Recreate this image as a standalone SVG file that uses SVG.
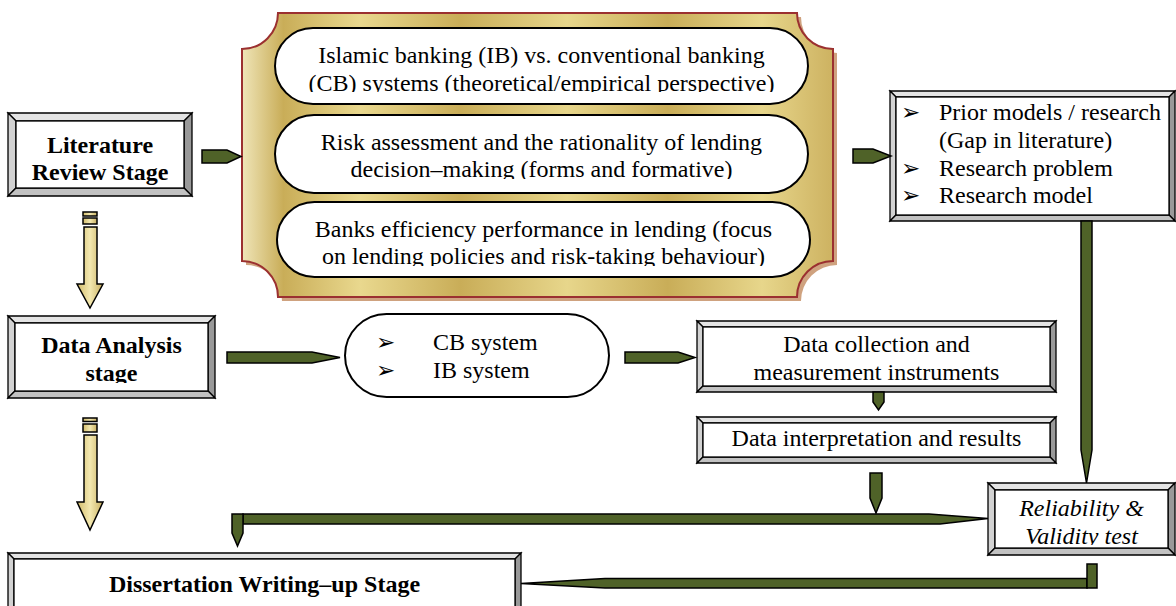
<svg xmlns="http://www.w3.org/2000/svg" width="1176" height="606" viewBox="0 0 1176 606">
  <style>
    text { font-family: "Liberation Serif", "Times New Roman", serif; font-size: 24px; fill: #000; }
    .b { font-weight: bold; }
    .it { font-style: italic; }
    .c { text-anchor: middle; }
    .bul { font-family: "DejaVu Sans", sans-serif; font-size: 23px; }
    .ln { stroke: #000; stroke-width: 1.3; stroke-linejoin: miter; }
    .bt { fill: #e4e4e4; }
    .bl { fill: #d2d2d2; }
    .br { fill: #999999; }
    .bb { fill: #c2c2c2; }
    .inner { fill: #fff; stroke: #000; stroke-width: 1.3; }
    .pill { fill: #fff; stroke: #000; stroke-width: 2; }
    .grn { fill: #4f6228; stroke: #000; stroke-width: 1.5; stroke-linejoin: miter; }
    .yel { fill: url(#yelGrad); stroke: #000; stroke-width: 1.5; }
  </style>
  <defs>
    <linearGradient id="goldGrad" x1="0" y1="0" x2="1" y2="0">
      <stop offset="0" stop-color="#efe5b8"/>
      <stop offset="0.07" stop-color="#c9ad58"/>
      <stop offset="0.2" stop-color="#e9d88e"/>
      <stop offset="0.37" stop-color="#c9ad58"/>
      <stop offset="0.55" stop-color="#e7d68b"/>
      <stop offset="0.72" stop-color="#c9ad58"/>
      <stop offset="0.88" stop-color="#e7d68b"/>
      <stop offset="1" stop-color="#cdb261"/>
    </linearGradient>
    <linearGradient id="yelGrad" x1="0" y1="0" x2="1" y2="0">
      <stop offset="0" stop-color="#d2bb6a"/>
      <stop offset="0.5" stop-color="#f3e8b0"/>
      <stop offset="1" stop-color="#c9b062"/>
    </linearGradient>
    <clipPath id="clipP1"><rect x="276" y="28" width="532" height="64"/></clipPath>
    <clipPath id="clipP2"><rect x="276" y="115" width="532" height="64"/></clipPath>
    <clipPath id="clipP3"><rect x="278" y="202" width="532" height="64"/></clipPath>
    <clipPath id="clipDA"><rect x="15" y="323" width="193" height="60"/></clipPath>
    <clipPath id="clipRV"><rect x="995" y="490" width="173" height="55"/></clipPath>
  </defs>

  <!-- stage 1: literature review -->
  <g id="literature-review">
    <polygon class="ln bt" points="8,113 192,113 184,121 16,121"/>
    <polygon class="ln bl" points="8,113 16,121 16,188 8,196"/>
    <polygon class="ln br" points="192,113 192,196 184,188 184,121"/>
    <polygon class="ln bb" points="8,196 16,188 184,188 192,196"/>
    <rect class="inner" x="16" y="121" width="168" height="67"/>
    <text class="b c" x="100" y="153">Literature</text>
    <text class="b c" x="100" y="180">Review Stage</text>
  </g>

  <!-- literature topics plaque -->
  <g id="topics">
    <path d="M 282,17 H 801 A 36 36 0 0 0 837,53 V 265 A 36 36 0 0 0 801,301 H 282 A 36 36 0 0 0 246,265 V 53 A 36 36 0 0 0 282,17 Z" fill="#cfa27f"/>
    <path d="M 278,13 H 797 A 36 36 0 0 0 833,49 V 261 A 36 36 0 0 0 797,297 H 278 A 36 36 0 0 0 242,261 V 49 A 36 36 0 0 0 278,13 Z" fill="url(#goldGrad)" stroke="#9b3030" stroke-width="2"/>
    <g id="topic-1">
      <rect class="pill" x="275" y="28" width="533" height="76" rx="38"/>
      <text class="c" x="541.5" y="63">Islamic banking (IB) vs. conventional banking</text>
      <text class="c" x="541.5" y="91" clip-path="url(#clipP1)">(CB) systems (theoretical/empirical perspective)</text>
    </g>
    <g id="topic-2">
      <rect class="pill" x="275" y="115" width="533" height="78" rx="39"/>
      <text class="c" x="541.5" y="150">Risk assessment and the rationality of lending</text>
      <text class="c" x="541.5" y="177" clip-path="url(#clipP2)">decision–making (forms and formative)</text>
    </g>
    <g id="topic-3">
      <rect class="pill" x="277" y="202" width="533" height="75" rx="37.5"/>
      <text class="c" x="543.5" y="237">Banks efficiency performance in lending (focus</text>
      <text class="c" x="543.5" y="264" clip-path="url(#clipP3)">on lending policies and risk-taking behaviour)</text>
    </g>
  </g>

  <!-- research outcome list -->
  <g id="research-model">
    <polygon class="ln bt" points="890,91 1175,91 1169,97 896,97"/>
    <polygon class="ln bl" points="890,91 896,97 896,215 890,221"/>
    <polygon class="ln br" points="1175,91 1175,221 1169,215 1169,97"/>
    <polygon class="ln bb" points="890,221 896,215 1169,215 1175,221"/>
    <rect class="inner" x="896" y="97" width="273" height="118"/>
    <text class="bul" x="901" y="120">➢</text>
    <text x="939" y="120">Prior models / research</text>
    <text x="939" y="148">(Gap in literature)</text>
    <text class="bul" x="901" y="176">➢</text>
    <text x="939" y="176">Research problem</text>
    <text class="bul" x="901" y="203">➢</text>
    <text x="939" y="203">Research model</text>
  </g>

  <!-- stage 2: data analysis -->
  <g id="data-analysis">
    <polygon class="ln bt" points="8,316 215,316 208,323 15,323"/>
    <polygon class="ln bl" points="8,316 15,323 15,391 8,398"/>
    <polygon class="ln br" points="215,316 215,398 208,391 208,323"/>
    <polygon class="ln bb" points="8,398 15,391 208,391 215,398"/>
    <rect class="inner" x="15" y="323" width="193" height="68"/>
    <text class="b c" x="111.5" y="353">Data Analysis</text>
    <text class="b c" x="111.5" y="381" clip-path="url(#clipDA)">stage</text>
  </g>

  <g id="systems">
    <rect class="pill" x="345" y="314" width="264" height="83" rx="41.5"/>
    <text class="bul" x="376" y="350">➢</text>
    <text x="433" y="350">CB system</text>
    <text class="bul" x="376" y="378">➢</text>
    <text x="433" y="378">IB system</text>
  </g>

  <g id="data-collection">
    <polygon class="ln bt" points="697,321 1056,321 1050,327 703,327"/>
    <polygon class="ln bl" points="697,321 703,327 703,386 697,392"/>
    <polygon class="ln br" points="1056,321 1056,392 1050,386 1050,327"/>
    <polygon class="ln bb" points="697,392 703,386 1050,386 1056,392"/>
    <rect class="inner" x="703" y="327" width="347" height="59"/>
    <text class="c" x="876.5" y="352">Data collection and</text>
    <text class="c" x="876.5" y="380">measurement instruments</text>
  </g>

  <g id="data-interpretation">
    <polygon class="ln bt" points="697,417 1056,417 1050,423 703,423"/>
    <polygon class="ln bl" points="697,417 703,423 703,457 697,463"/>
    <polygon class="ln br" points="1056,417 1056,463 1050,457 1050,423"/>
    <polygon class="ln bb" points="697,463 703,457 1050,457 1056,463"/>
    <rect class="inner" x="703" y="423" width="347" height="34"/>
    <text class="c" x="876.5" y="446">Data interpretation and results</text>
  </g>

  <g id="reliability-validity">
    <polygon class="ln bt" points="988,483 1175,483 1168,490 995,490"/>
    <polygon class="ln bl" points="988,483 995,490 995,548 988,555"/>
    <polygon class="ln br" points="1175,483 1175,555 1168,548 1168,490"/>
    <polygon class="ln bb" points="988,555 995,548 1168,548 1175,555"/>
    <rect class="inner" x="995" y="490" width="173" height="58"/>
    <text class="it c" x="1081.5" y="516">Reliability &amp;</text>
    <text class="it c" x="1081.5" y="544" clip-path="url(#clipRV)">Validity test</text>
  </g>

  <!-- stage 3: write-up -->
  <g id="dissertation">
    <polygon class="ln bt" points="8,553 521,553 515,559 14,559"/>
    <polygon class="ln bl" points="8,553 14,559 14,614 8,620"/>
    <polygon class="ln br" points="521,553 521,620 515,614 515,559"/>
    <rect class="inner" x="14" y="559" width="501" height="55"/>
    <text class="b c" x="264.5" y="592">Dissertation Writing–up Stage</text>
  </g>

  <!-- connectors -->
  <g id="connectors">
    <!-- stage progression (yellow) -->
    <rect class="yel" x="83" y="212" width="14" height="4"/>
    <rect class="yel" x="83" y="218" width="14" height="6"/>
    <polygon class="yel" points="84,227 97,227 97,284 103,284 90,308 77,284 84,284"/>
    <rect class="yel" x="83" y="418" width="14" height="3.5"/>
    <rect class="yel" x="83" y="424" width="14" height="8"/>
    <polygon class="yel" points="84,435 97,435 97,502 103,502 90,530 77,502 84,502"/>

    <!-- flow arrows (green) -->
    <polygon class="grn" points="202,150 227,150 241,156.5 227,163 202,163"/>
    <polygon class="grn" points="853,149 873,149 891,156 873,163 853,163"/>
    <polygon class="grn" points="227,352 312,352 340,357.5 312,363 227,363"/>
    <polygon class="grn" points="625,352 678,352 695,357.5 678,363 625,363"/>
    <polygon class="grn" points="873,392 884,392 884,402 878.5,410 873,402"/>
    <polygon class="grn" points="870,473 882,473 882,498 876,513 870,498"/>
    <polygon class="grn" points="1081,221 1092,221 1092,450 1086.5,483 1081,450"/>
    <polygon class="grn" points="243,514 929,514 988,518.5 940,524 243,524"/>
    <polygon class="grn" points="232,514 243,514 243,533 237.5,546 232,533"/>
    <polygon class="grn" points="521,583.5 605,578.5 1087,578.5 1087,588 605,588"/>
    <rect class="grn" x="1087" y="564" width="10" height="24"/>
  </g>
</svg>
